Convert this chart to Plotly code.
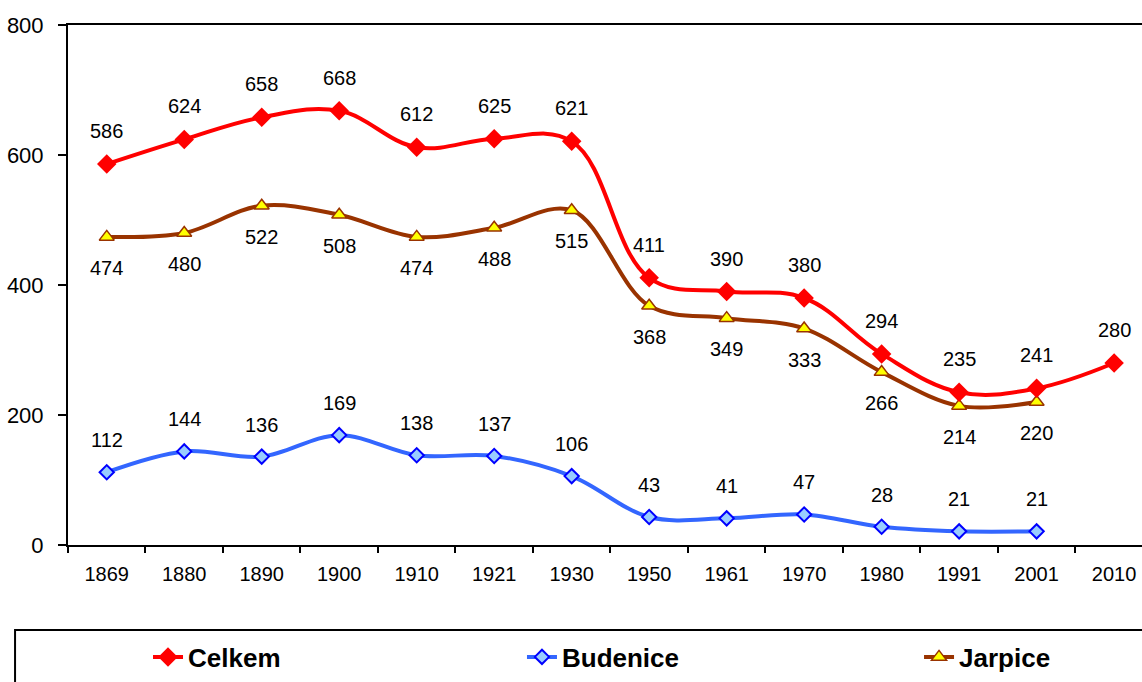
import plotly.graph_objects as go

years = ["1869", "1880", "1890", "1900", "1910", "1921", "1930", "1950", "1961", "1970", "1980", "1991", "2001", "2010"]
celkem = [586, 624, 658, 668, 612, 625, 621, 411, 390, 380, 294, 235, 241, 280]
budenice = [112, 144, 136, 169, 138, 137, 106, 43, 41, 47, 28, 21, 21, None]
jarpice = [474, 480, 522, 508, 474, 488, 515, 368, 349, 333, 266, 214, 220, None]

FONT = "Liberation Sans, Arial, sans-serif"

fig = go.Figure()

fig.add_trace(go.Scatter(
    x=years, y=budenice, name="Budenice", mode="lines+markers",
    line=dict(color="#3366ff", width=4, shape="spline", smoothing=1.0),
    marker=dict(symbol="diamond", size=11, color="#99ccff", line=dict(color="#0000ff", width=2)),
    legend="legend3", connectgaps=False,
))
fig.add_trace(go.Scatter(
    x=years, y=jarpice, name="Jarpice", mode="lines+markers",
    line=dict(color="#993300", width=4, shape="spline", smoothing=1.0),
    marker=dict(symbol="triangle-up", size=13, color="#ffff00", line=dict(color="#993300", width=1.5)),
    legend="legend4", connectgaps=False,
))
fig.add_trace(go.Scatter(
    x=years, y=celkem, name="Celkem", mode="lines+markers",
    line=dict(color="#ff0000", width=4, shape="spline", smoothing=1.1),
    marker=dict(symbol="diamond", size=15, color="#ff0000", line=dict(color="#ff0000", width=0)),
    legend="legend2",
))

annotations = []
for series, shift in ((celkem, 33), (budenice, 32), (jarpice, -31)):
    for i, yv in enumerate(series):
        if yv is None:
            continue
        annotations.append(dict(
            x=i, y=yv, xref="x", yref="y", text=str(yv), showarrow=False, yshift=shift,
            font=dict(family=FONT, size=20, color="black"),
        ))

legend_common = dict(
    orientation="h", yanchor="middle", y=-0.2154, xanchor="left",
    bgcolor="rgba(0,0,0,0)", borderwidth=0,
    font=dict(family=FONT, size=26, color="black", weight="bold"),
)

fig.update_layout(
    width=1142, height=682,
    margin=dict(l=68, r=0, t=25, b=137, pad=0),
    paper_bgcolor="white", plot_bgcolor="white",
    font=dict(family=FONT, size=20, color="black"),
    annotations=annotations,
    showlegend=True,
    legend2=dict(x=0.0745, **legend_common),
    legend3=dict(x=0.4227, **legend_common),
    legend4=dict(x=0.7924, **legend_common),
    shapes=[dict(
        type="rect", xref="paper", yref="paper",
        x0=-0.0493, x1=1.02, y0=-0.1635, y1=-0.35,
        line=dict(color="black", width=2), fillcolor="rgba(0,0,0,0)",
    )],
)

fig.update_xaxes(
    type="category", range=[-0.5, 13.36],
    showline=True, linecolor="black", linewidth=2, mirror=True,
    showgrid=False, zeroline=False,
    ticks="outside", tickson="boundaries", ticklen=6, tickwidth=2, tickcolor="black",
    ticklabelstandoff=10,
    tickfont=dict(family=FONT, size=20, color="black"),
)
fig.update_yaxes(
    range=[0, 800], dtick=200,
    showline=True, linecolor="black", linewidth=2,
    showgrid=False, zeroline=False,
    ticks="outside", ticklen=8, tickwidth=2, tickcolor="black",
    ticklabelstandoff=10,
    tickfont=dict(family=FONT, size=22, color="black"),
)

fig.write_html(
    "out.html",
    config={"displayModeBar": False},
    post_script="document.body.style.margin='0';document.body.style.overflow='hidden';",
)
